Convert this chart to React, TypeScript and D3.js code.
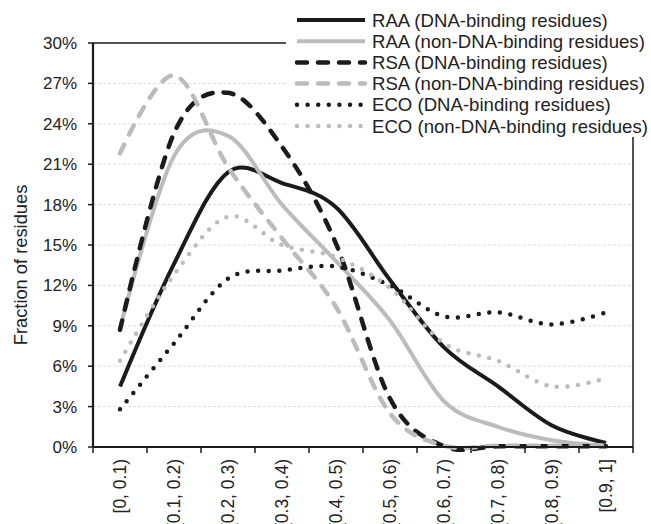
import React, { useEffect, useRef } from "react";
import * as d3 from "d3";

const categories = [
  "[0, 0.1)", "[0.1, 0.2)", "[0.2, 0.3)", "[0.3, 0.4)", "[0.4, 0.5)",
  "[0.5, 0.6)", "[0.6, 0.7)", "[0.7, 0.8)", "[0.8, 0.9)", "[0.9, 1]",
];
const yTicks = [0, 3, 6, 9, 12, 15, 18, 21, 24, 27, 30];

const raaDna = [4.5, 13.6, 20.4, 19.6, 17.8, 12.4, 7.4, 4.5, 1.6, 0.3];
const raaNon = [8.8, 21.6, 23.1, 18.0, 13.8, 9.4, 3.4, 1.5, 0.5, 0.1];
const rsaDna = [8.7, 23.3, 26.3, 22.3, 15.1, 3.6, 0.05, 0.05, 0.05, 0.05];
const rsaNon = [21.8, 27.6, 20.8, 15.5, 10.4, 2.5, 0.1, 0.1, 0.1, 0.1];
const ecoDna = [2.8, 7.7, 12.5, 13.1, 13.4, 12.0, 9.7, 10.0, 9.1, 10.0];
const ecoNon = [6.4, 12.8, 17.1, 15.0, 14.1, 11.8, 7.7, 6.4, 4.5, 5.1];

const seriesNames = [
  "RAA (DNA-binding residues)",
  "RAA (non-DNA-binding residues)",
  "RSA (DNA-binding residues)",
  "RSA (non-DNA-binding residues)",
  "ECO (DNA-binding residues)",
  "ECO (non-DNA-binding residues)",
];
const seriesValues = [raaDna, raaNon, rsaDna, rsaNon, ecoDna, ecoNon];

const BLACK = "#1b1b1b";
const GRAY = "#bcbcbc";
const styles = [
  { color: BLACK, dash: null, width: 4 },
  { color: GRAY, dash: null, width: 4 },
  { color: BLACK, dash: "10,11", width: 4.5 },
  { color: GRAY, dash: "10,11", width: 4.5 },
  { color: BLACK, dash: "0,10.6", width: 4.5 },
  { color: GRAY, dash: "0,10.6", width: 4.5 },
];

const FONT = "Arial, 'Liberation Sans', sans-serif";

const App = () => {
  const svgRef = useRef<SVGSVGElement>(null);
  const width = 651;
  const height = 524;

  useEffect(() => {
    const svg = d3.select(svgRef.current);
    svg.selectAll("*").remove();

    const left = 93, right = 633, top = 43, bottom = 447;

    const x = d3.scaleBand().domain(categories).range([left, right]);
    const y = d3.scaleLinear().domain([0, 30]).range([bottom, top]);

    // grid lines
    svg.append("g")
      .selectAll("line")
      .data(yTicks.filter((t) => t > 0 && t < 30))
      .enter()
      .append("line")
      .attr("x1", left)
      .attr("x2", right)
      .attr("y1", (d) => y(d))
      .attr("y2", (d) => y(d))
      .attr("stroke", "#dedede")
      .attr("stroke-width", 1)
      .attr("stroke-dasharray", "3,2");

    // plot frame (top and right)
    svg.append("path")
      .attr("d", `M${left},${top}H${right}V${bottom}`)
      .attr("fill", "none")
      .attr("stroke", BLACK)
      .attr("stroke-width", 1.5);

    // y axis
    const yAxis = svg.append("g");
    yAxis.append("line")
      .attr("x1", left).attr("x2", left)
      .attr("y1", top).attr("y2", bottom)
      .attr("stroke", BLACK).attr("stroke-width", 2.2);
    yAxis.selectAll("line.tick")
      .data(yTicks)
      .enter()
      .append("line")
      .attr("class", "tick")
      .attr("x1", left - 5).attr("x2", left)
      .attr("y1", (d) => y(d)).attr("y2", (d) => y(d))
      .attr("stroke", BLACK).attr("stroke-width", 1.5);
    yAxis.selectAll("text")
      .data(yTicks)
      .enter()
      .append("text")
      .attr("x", 77)
      .attr("y", (d) => y(d))
      .attr("dy", "0.35em")
      .attr("text-anchor", "end")
      .style("font-family", FONT)
      .style("font-size", "17px")
      .style("fill", "#222")
      .text((d) => `${d}%`);

    svg.append("text")
      .attr("transform", `translate(21, 265) rotate(-90)`)
      .attr("text-anchor", "middle")
      .attr("dy", "0.35em")
      .style("font-family", FONT)
      .style("font-size", "18.3px")
      .style("fill", "#222")
      .text("Fraction of residues");

    // lines (Excel-style smoothing)
    const line = d3
      .line<number>()
      .x((d, i) => (x(categories[i]) as number) + x.bandwidth() / 2)
      .y((d) => y(d))
      .curve(d3.curveCardinal.tension(0));

    seriesValues.forEach((vals, i) => {
      const s = styles[i];
      svg.append("path")
        .datum(vals)
        .attr("d", line)
        .attr("fill", "none")
        .attr("stroke", s.color)
        .attr("stroke-width", s.width)
        .attr("stroke-linecap", s.dash ? "round" : "butt")
        .attr("stroke-dasharray", s.dash);
    });

    // x axis
    const xAxis = svg.append("g");
    xAxis.append("line")
      .attr("x1", left).attr("x2", right)
      .attr("y1", bottom).attr("y2", bottom)
      .attr("stroke", BLACK).attr("stroke-width", 2.2);
    const boundaries = categories.map((c) => x(c) as number).concat([right]);
    xAxis.selectAll("line.tick")
      .data(boundaries)
      .enter()
      .append("line")
      .attr("class", "tick")
      .attr("x1", (d) => d).attr("x2", (d) => d)
      .attr("y1", bottom).attr("y2", bottom + 6)
      .attr("stroke", BLACK).attr("stroke-width", 1.5);
    xAxis.selectAll("text")
      .data(categories)
      .enter()
      .append("text")
      .attr("transform", (d) =>
        `translate(${(x(d) as number) + x.bandwidth() / 2}, 459) rotate(-90)`)
      .attr("dy", "0.35em")
      .attr("text-anchor", "end")
      .style("font-family", FONT)
      .style("font-size", "17.5px")
      .style("fill", "#222")
      .text((d) => d);

    // legend
    const legend = svg.append("g");
    legend.append("rect")
      .attr("x", 286).attr("y", 0)
      .attr("width", width - 286).attr("height", 137)
      .attr("fill", "#fff");
    seriesNames.forEach((name, i) => {
      const s = styles[i];
      const ly = 20 + i * 21.2;
      legend.append("line")
        .attr("x1", 297).attr("x2", 365)
        .attr("y1", ly).attr("y2", ly)
        .attr("stroke", s.color)
        .attr("stroke-width", s.width)
        .attr("stroke-linecap", s.dash ? "round" : "butt")
        .attr("stroke-dasharray", s.dash);
      legend.append("text")
        .attr("x", 372)
        .attr("y", ly)
        .attr("dy", "0.35em")
        .style("font-family", FONT)
        .style("font-size", "18.6px")
        .style("fill", "#222")
        .text(name);
    });
  }, []);

  return (
    <svg
      ref={svgRef}
      width={width}
      height={height}
      style={{ position: "absolute", left: 0, top: 0, background: "#fff" }}
    ></svg>
  );
};

export default App;
